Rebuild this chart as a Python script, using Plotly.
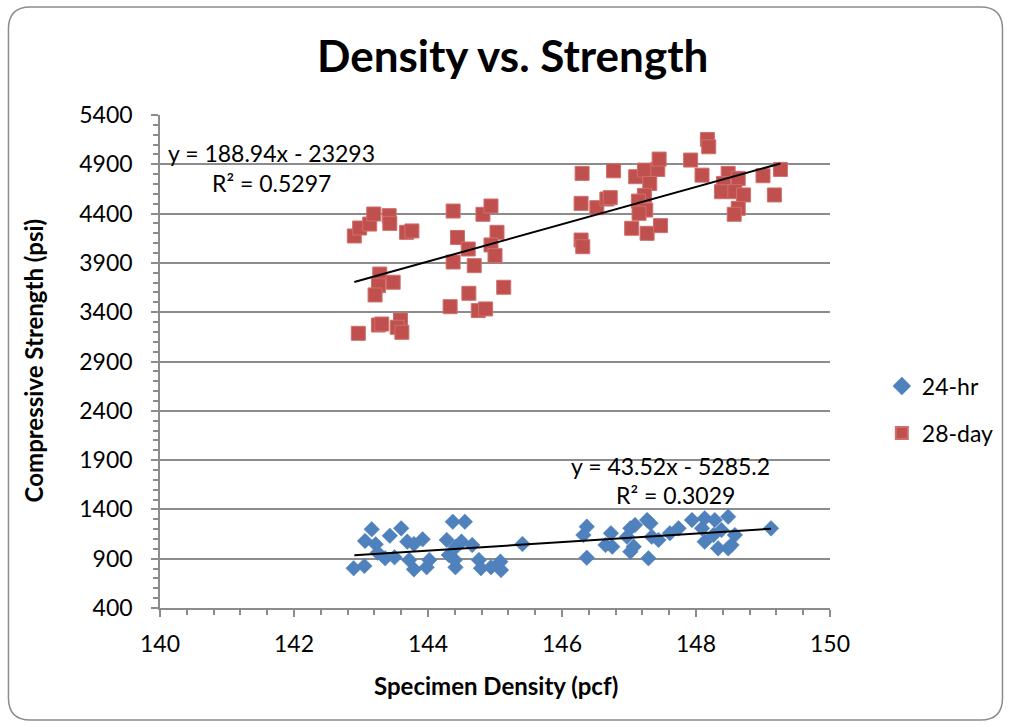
import plotly.graph_objects as go

# ---------------- data ----------------
x_24hr = [142.89, 143.05, 143.16, 143.06, 143.22, 143.25, 143.36, 143.43, 143.50, 143.60,
          143.69, 143.79, 143.92, 143.72, 143.79, 143.98, 144.02, 144.28, 144.37, 144.55,
          144.42, 144.50, 144.66, 144.31, 144.41, 144.40, 144.76, 144.79, 144.94, 145.08,
          145.09, 145.41,
          146.37, 146.32, 146.37, 146.65, 146.73, 146.75, 147.02, 147.09, 147.27, 147.32,
          146.97, 147.07, 147.02, 147.29, 147.34, 147.44, 147.61, 147.74, 147.94, 148.09,
          148.13, 148.28, 148.48, 148.13, 148.26, 148.33, 148.48, 148.38, 148.58, 148.53,
          149.12]
y_24hr = [803, 826, 1198, 1080, 1046, 961, 904, 1133, 914, 1208,
          1073, 1049, 1097, 887, 792, 813, 887, 1090, 1275, 1275,
          1022, 1073, 1039, 937, 813, 887, 887, 803, 813, 870,
          785, 1049,
          1225, 1140, 910, 1039, 1158, 1022, 1208, 1242, 1292, 1259,
          1123, 1022, 971, 904, 1123, 1090, 1158, 1208, 1292, 1208,
          1310, 1292, 1326, 1073, 1140, 1005, 1005, 1191, 1140, 1039,
          1208]

x_28day = [142.96, 142.90, 142.98, 143.13, 143.19, 143.42, 143.43, 143.68, 143.76, 143.28,
           143.26, 143.48, 143.21, 143.26, 143.31, 143.59, 143.54, 143.61,
           144.375, 144.82, 144.94, 144.44, 144.60, 144.375, 144.69, 145.03, 144.94, 145.00,
           145.13, 144.61, 144.33, 144.75, 144.86,
           146.30, 146.285, 146.285, 146.31, 146.52, 146.67, 146.72, 146.77, 147.10, 147.23,
           147.43, 147.45, 147.31, 147.23, 147.14, 147.25, 147.15, 147.04, 147.27, 147.47,
           147.92, 148.09, 148.17, 148.19, 148.48, 148.63, 148.41, 148.38, 148.58, 148.71,
           148.63, 148.57, 149.00, 149.26, 149.17]
y_28day = [3186, 4173, 4254, 4294, 4396, 4379, 4301, 4210, 4224, 3787,
           3669, 3704, 3575, 3270, 3280, 3321, 3247, 3196,
           4426, 4393, 4477, 4158, 4041, 3909, 3872, 4210, 4082, 3974,
           3653, 3592, 3456, 3416, 3433,
           4808, 4504, 4132, 4064, 4460, 4548, 4562, 4834, 4774, 4841,
           4848, 4953, 4706, 4585, 4527, 4436, 4403, 4251, 4200, 4278,
           4943, 4790, 5152, 5078, 4808, 4757, 4706, 4622, 4622, 4589,
           4453, 4393, 4784, 4848, 4589]

# linear trendline coefficients (as printed on chart)
fit_24hr = (43.52, -5285.2)
fit_28day = (188.94, -23293)
trend_x_24hr = [142.9, 149.12]
trend_x_28day = [142.9, 149.26]

eq_24hr = ["y = 43.52x - 5285.2", "R² = 0.3029"]
eq_28day = ["y = 188.94x - 23293", "R² = 0.5297"]

series_names = ["24-hr", "28-day"]
x_ticks = [140, 142, 144, 146, 148, 150]
y_ticks = [400, 900, 1400, 1900, 2400, 2900, 3400, 3900, 4400, 4900, 5400]

# ---------------- styling ----------------
BLUE = "#4F81BD"
RED = "#C0504D"
GRID = "#8C8C8C"
FONT = "Lato"
BODY = 23

W, H = 1011, 727
L, R, T, B = 160, 832, 115, 608


def px(xp):
    return (xp - L) / (R - L)


def py(yp):
    return (B - yp) / (B - T)


fig = go.Figure()

fig.add_trace(go.Scatter(
    x=x_24hr, y=y_24hr, mode="markers", name=series_names[0], legend="legend",
    marker=dict(symbol="diamond", size=12, color=BLUE, line=dict(color=BLUE, width=0.5)),
))
fig.add_trace(go.Scatter(
    x=x_28day, y=y_28day, mode="markers", name=series_names[1], legend="legend2",
    marker=dict(symbol="square", size=14, color=RED, line=dict(color="#CF6F6C", width=1)),
))

for xs, (m, c) in [(trend_x_24hr, fit_24hr), (trend_x_28day, fit_28day)]:
    fig.add_trace(go.Scatter(
        x=xs, y=[m * v + c for v in xs], mode="lines",
        line=dict(color="black", width=2), showlegend=False, hoverinfo="skip",
    ))


def ann(xp, yp, text, size=BODY, angle=0):
    return dict(x=px(xp), y=py(yp), xref="paper", yref="paper", text=text,
                showarrow=False, xanchor="center", yanchor="middle", textangle=angle,
                font=dict(family=FONT, size=size, color="black"))


annotations = [
    ann(272, 153, eq_28day[0]),
    ann(272, 183, eq_28day[1]),
    ann(672, 466, eq_24hr[0]),
    ann(677, 495, eq_24hr[1]),
    ann(514, 55, "<b>Density vs. Strength</b>", size=44),
    ann(497, 685, "<b>Specimen Density (pcf)</b>", size=24),
    ann(33, 360, "<b>Compressive Strength (psi)</b>", size=24, angle=-90),
]

# rounded chart border
x0, x1, y0, y1, r = 8, 1005, 7, 720, 22
path = (f"M {px(x0+r)},{py(y0)} L {px(x1-r)},{py(y0)} Q {px(x1)},{py(y0)} {px(x1)},{py(y0+r)} "
        f"L {px(x1)},{py(y1-r)} Q {px(x1)},{py(y1)} {px(x1-r)},{py(y1)} "
        f"L {px(x0+r)},{py(y1)} Q {px(x0)},{py(y1)} {px(x0)},{py(y1-r)} "
        f"L {px(x0)},{py(y0+r)} Q {px(x0)},{py(y0)} {px(x0+r)},{py(y0)} Z")

leg_common = dict(xanchor="left", yanchor="middle", font=dict(family=FONT, size=BODY),
                  bgcolor="rgba(0,0,0,0)", itemsizing="constant")

fig.update_layout(
    width=W, height=H,
    margin=dict(l=L, r=W - R, t=T, b=H - B),
    paper_bgcolor="white", plot_bgcolor="white",
    font=dict(family=FONT, size=BODY, color="black"),
    annotations=annotations,
    shapes=[dict(type="path", path=path, xref="paper", yref="paper",
                 line=dict(color="#8C8C8C", width=1.5), layer="below")],
    legend=dict(x=px(884), y=py(386), **leg_common),
    legend2=dict(x=px(884), y=py(433), **leg_common),
    xaxis=dict(range=[140, 150], tickvals=x_ticks, ticks="outside", ticklen=7,
               tickcolor=GRID, tickwidth=1.5, showgrid=False, zeroline=False,
               showline=True, linecolor=GRID, linewidth=1.5, ticklabelstandoff=8,
               tickfont=dict(family=FONT, size=BODY),
               minor=dict(dtick=0.4, ticks="outside", ticklen=5, tickcolor=GRID, showgrid=False)),
    yaxis=dict(range=[400, 5400], tickvals=y_ticks, ticks="outside", ticklen=7,
               tickcolor=GRID, tickwidth=1.5, showgrid=True, gridcolor=GRID, gridwidth=1.5,
               zeroline=False, showline=True, linecolor=GRID, linewidth=1.5, ticklabelstandoff=14,
               tickfont=dict(family=FONT, size=BODY),
               minor=dict(dtick=100, ticks="outside", ticklen=5, tickcolor=GRID, showgrid=False)),
    showlegend=True,
)

fig.write_html("out.html")
